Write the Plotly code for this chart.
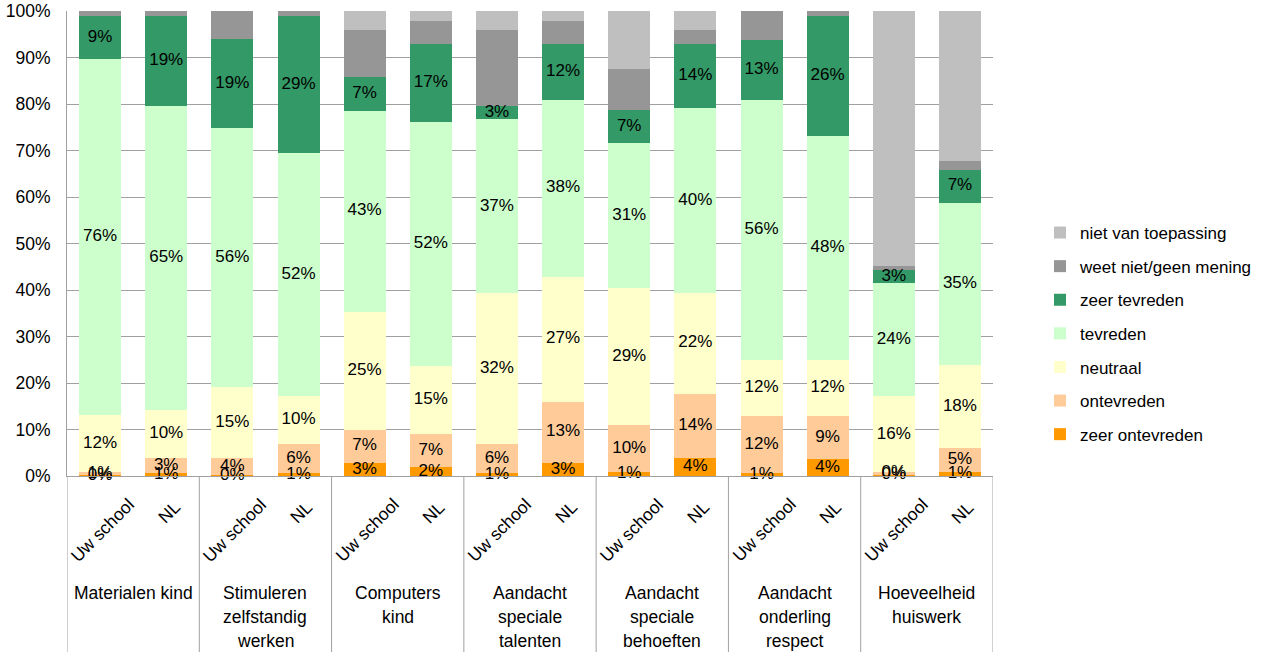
import plotly.graph_objects as go

groups = [["Materialen kind"], ["Stimuleren", "zelfstandig", "werken"], ["Computers", "kind"],
          ["Aandacht", "speciale", "talenten"], ["Aandacht", "speciale", "behoeften"],
          ["Aandacht", "onderling", "respect"], ["Hoeveelheid", "huiswerk"]]
subgroups = ["Uw school", "NL"]

series_names = ["zeer ontevreden", "ontevreden", "neutraal", "tevreden", "zeer tevreden",
                "weet niet/geen mening", "niet van toepassing"]
series_colors = ["#FF9900", "#FFCC99", "#FFFFCC", "#CCFFCC", "#339966", "#969696", "#BFBFBF"]
labelled = [True, True, True, True, True, False, False]

zeer_ontevreden = [0.2, 0.7, 0.2, 0.7, 2.9, 1.9, 0.7, 2.9, 0.9, 3.9, 0.7, 3.7, 0.4, 0.9]
ontevreden      = [0.6, 3.2, 3.7, 6.2, 7.0, 7.1, 6.2, 13.1, 10.1, 13.8, 12.2, 9.2, 0.4, 5.1]
neutraal        = [12.4, 10.3, 15.2, 10.2, 25.4, 14.7, 32.4, 26.9, 29.4, 21.7, 12.1, 12.1, 16.3, 17.9]
tevreden        = [76.4, 65.4, 55.8, 52.4, 43.3, 52.4, 37.4, 38.0, 31.2, 39.7, 55.9, 48.2, 24.3, 34.9]
zeer_tevreden   = [9.4, 19.4, 19.0, 29.4, 7.2, 16.8, 2.9, 12.0, 7.1, 13.8, 12.9, 25.7, 3.0, 7.1]
weet_niet       = [1.0, 1.0, 6.1, 1.1, 10.1, 4.9, 16.3, 4.9, 8.9, 3.0, 6.2, 1.1, 0.8, 1.9]
niet_van_toep   = [0.0, 0.0, 0.0, 0.0, 4.1, 2.2, 4.1, 2.2, 12.3, 4.1, 0.0, 0.0, 54.8, 32.2]

series_values = [zeer_ontevreden, ontevreden, neutraal, tevreden, zeer_tevreden, weet_niet, niet_van_toep]

y_ticks = list(range(0, 101, 10))
y_tick_labels = [f"{t}%" for t in y_ticks]

FONT = "Liberation Sans, Arial, sans-serif"
GRID = "#A0A0A0"

n = len(zeer_ontevreden)
xs = list(range(n))

fig = go.Figure()
nser = len(series_names)
for idx, (name, color, vals) in enumerate(zip(series_names, series_colors, series_values)):
    fig.add_trace(go.Bar(
        x=xs, y=vals, name=name, marker=dict(color=color, line=dict(width=0)),
        legendgroup=name, legendrank=nser - idx, hoverinfo="skip",
    ))

# segment labels, centred on each stacked segment
base = [0.0] * n
for name, vals, lab in zip(series_names, series_values, labelled):
    mids = [b + v / 2 for b, v in zip(base, vals)]
    if lab:
        fig.add_trace(go.Scatter(
            x=xs, y=mids, mode="text", text=[f"{round(v)}%" for v in vals],
            textposition="middle center", cliponaxis=False, showlegend=False,
            textfont=dict(family=FONT, size=17, color="#000000"), hoverinfo="skip",
        ))
    base = [b + v for b, v in zip(base, vals)]

annotations = []
sub_shift = {"Uw school": (2.5, -54), "NL": (3, -36)}
for i in xs:
    sub = subgroups[i % 2]
    dx, dy = sub_shift[sub]
    annotations.append(dict(x=i, y=0, xref="x", yref="y", text=sub, showarrow=False,
                            textangle=-45, xanchor="center", yanchor="middle",
                            xshift=dx, yshift=dy,
                            font=dict(family=FONT, size=17.5, color="#000000")))
for g, lines in enumerate(groups):
    for k, line in enumerate(lines):
        annotations.append(dict(x=2 * g + 0.5, y=0, xref="x", yref="y", text=line,
                                showarrow=False, xanchor="center", yanchor="middle",
                                yshift=-(117 + 24 * k),
                                font=dict(family=FONT, size=17.5, color="#000000")))

shapes = []
for g in range(len(groups) + 1):
    shapes.append(dict(type="line", xref="x", yref="paper", x0=2 * g - 0.5, x1=2 * g - 0.5,
                       y0=0, y1=-176 / 465, line=dict(color=GRID, width=1)))

fig.update_layout(
    width=1265, height=656,
    margin=dict(l=67, r=272, t=11, b=180, autoexpand=False),
    barmode="stack", bargap=0.365,
    plot_bgcolor="white", paper_bgcolor="white",
    font=dict(family=FONT, size=17.5, color="#000000"),
    xaxis=dict(range=[-0.5, n - 0.5], showticklabels=False, showgrid=False, zeroline=False,
               showline=True, linecolor=GRID, linewidth=1, ticks=""),
    yaxis=dict(range=[0, 100], tickvals=y_ticks, ticktext=y_tick_labels, showgrid=True,
               gridcolor=GRID, gridwidth=1, zeroline=False, showline=True, linecolor=GRID,
               linewidth=1, ticks="", ticklabelstandoff=12,
               tickfont=dict(family=FONT, size=17.5, color="#000000")),
    legend=dict(x=(1040 - 67) / 926, xanchor="left", y=(476 - 333.5) / 465, yanchor="middle",
                traceorder="grouped", tracegroupgap=8.5,
                font=dict(family=FONT, size=17, color="#000000"), bgcolor="rgba(0,0,0,0)"),
    annotations=annotations, shapes=shapes,
    showlegend=True,
)

fig.write_html("out.html", config={"displayModeBar": False},
               post_script="document.body.style.margin='0';document.body.style.overflow='hidden';")
